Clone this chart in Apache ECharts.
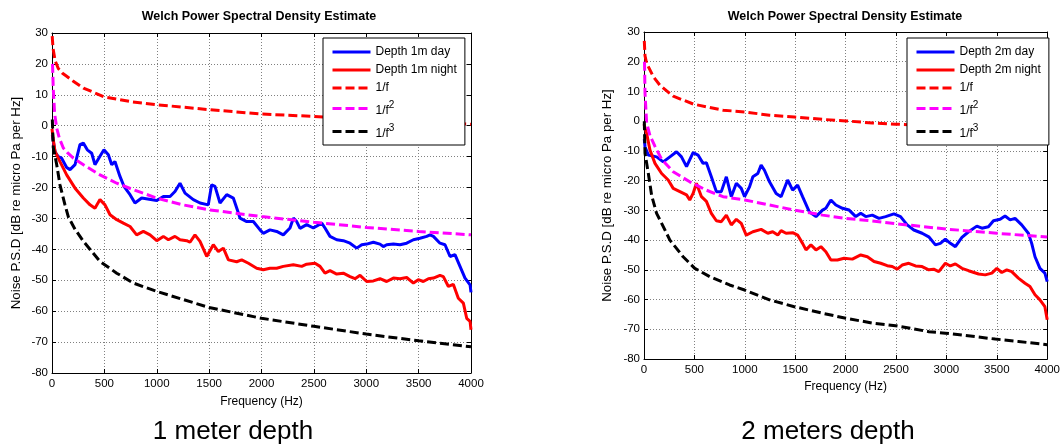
<!DOCTYPE html>
<html>
<head>
<meta charset="utf-8">
<script src="https://cdn.jsdelivr.net/npm/echarts@6/dist/echarts.min.js"></script>
<style>
  html, body { margin: 0; padding: 0; background: #fff; }
  #chart { width: 1063px; height: 448px; }
</style>
</head>
<body>
<div id="chart"></div>
<script>
// ---- data, [frequency Hz, dB] ----
const freqTicks = [0, 500, 1000, 1500, 2000, 2500, 3000, 3500, 4000];
const dbTicks = [-80, -70, -60, -50, -40, -30, -20, -10, 0, 10, 20, 30];

const day1m = [[3,-3],[29,-8.5],[60,-10],[92,-10.5],[140,-13.5],[172,-14.2],[220,-12.6],[267,-6.1],[299,-5.6],[337,-7.8],[379,-8.9],[410,-12.6],[458,-9.9],[496,-7.8],[538,-9.4],[570,-12.6],[601,-11.6],[649,-16.4],[687,-19.6],[745,-22.3],[792,-25.0],[856,-23.4],[1000,-24.2],[1063,-22.9],[1127,-22.9],[1174,-21.3],[1222,-18.6],[1270,-21.8],[1349,-23.9],[1413,-25.0],[1492,-25.6],[1524,-19.1],[1556,-19.6],[1604,-25.0],[1668,-22.3],[1731,-23.4],[1769,-27.2],[1795,-29.9],[1859,-31.0],[1922,-31.0],[1986,-33.7],[2017,-34.8],[2081,-33.7],[2145,-34.2],[2208,-35.3],[2272,-33.1],[2304,-29.9],[2336,-31.0],[2368,-33.2],[2431,-32.0],[2495,-33.1],[2575,-31.5],[2606,-33.1],[2654,-35.8],[2718,-36.9],[2781,-37.2],[2845,-38.0],[2909,-39.6],[2957,-38.5],[3004,-38.3],[3068,-37.7],[3131,-38.3],[3163,-39.1],[3195,-38.5],[3259,-38.3],[3322,-38.5],[3386,-38.0],[3450,-36.9],[3513,-36.4],[3577,-35.8],[3609,-35.3],[3641,-35.8],[3704,-38.0],[3752,-38.5],[3800,-42.3],[3847,-41.7],[3895,-45.5],[3943,-49.3],[3991,-51.5],[4000,-53.9]];

const night1m = [[0,-1],[10,-4],[29,-8.3],[76,-11.6],[140,-15.9],[220,-20.2],[299,-23.4],[363,-25.6],[410,-26.7],[458,-23.9],[506,-25.6],[554,-28.8],[618,-30.4],[681,-31.5],[745,-32.6],[808,-35.3],[872,-34.2],[936,-35.3],[1000,-37.2],[1063,-35.8],[1111,-36.9],[1174,-35.8],[1222,-36.9],[1286,-37.2],[1317,-37.7],[1365,-35.3],[1413,-37.4],[1477,-42.3],[1540,-38.5],[1588,-40.7],[1636,-39.6],[1684,-43.4],[1763,-44.0],[1811,-43.4],[1875,-44.5],[1954,-46.1],[2017,-46.6],[2081,-46.1],[2145,-46.1],[2208,-45.5],[2304,-45.0],[2384,-45.5],[2431,-44.8],[2511,-44.5],[2559,-45.5],[2606,-47.7],[2654,-46.9],[2718,-48.0],[2781,-47.7],[2845,-48.8],[2893,-49.5],[2941,-48.4],[3004,-50.4],[3068,-50.2],[3131,-49.5],[3195,-50.4],[3259,-49.3],[3322,-49.5],[3386,-49.1],[3450,-50.9],[3497,-49.8],[3545,-50.4],[3593,-49.5],[3641,-49.3],[3704,-48.4],[3736,-48.8],[3784,-52.0],[3831,-51.3],[3879,-55.8],[3927,-57.4],[3959,-62.3],[3991,-63.3],[4000,-66.0]];

const invF1m = [[2,29],[10,25],[30,21],[60,18.5],[100,17],[140,16],[200,14.5],[300,12.2],[500,9.3],[750,7.8],[1000,6.8],[1500,5.2],[2000,3.8],[2500,3.0],[3000,2.0],[3500,1.2],[4000,0.5]];
const invF2_1m = [[5,20],[12,12],[25,4],[45,-0.8],[70,-4],[108,-7.2],[150,-8.8],[204,-10.5],[300,-12.6],[458,-15.9],[618,-18.6],[776,-20.7],[1000,-23.4],[1250,-25.6],[1500,-27.2],[1750,-28.3],[2000,-29.4],[2500,-31.2],[3000,-32.9],[3500,-34.2],[4000,-35.3]];
const invF3_1m = [[3,2],[12,-7],[45,-12.6],[76,-19.1],[124,-25.6],[156,-29.5],[220,-33.5],[300,-37.4],[458,-43.9],[618,-47.7],[776,-50.9],[1000,-53.6],[1500,-58.8],[2000,-62.3],[2500,-64.9],[3000,-67.4],[3500,-69.6],[4000,-71.5]];

const day2m = [[3,-6],[10,-8.6],[43,-11.4],[125,-12.0],[191,-13.7],[257,-12.0],[323,-10.3],[372,-12.0],[422,-15.3],[487,-10.6],[536,-11.4],[586,-14.2],[619,-14.0],[668,-18.7],[718,-23.7],[767,-23.7],[817,-18.7],[866,-25.4],[916,-20.9],[965,-22.6],[998,-25.4],[1047,-22.1],[1080,-18.7],[1129,-17.6],[1162,-14.8],[1195,-16.5],[1245,-20.4],[1311,-24.3],[1360,-25.4],[1425,-19.8],[1475,-23.2],[1524,-21.5],[1573,-25.4],[1640,-30.5],[1706,-32.1],[1722,-32.5],[1771,-29.9],[1804,-29.3],[1854,-26.5],[1903,-28.2],[1969,-29.3],[2035,-29.9],[2101,-32.1],[2150,-31.0],[2200,-32.1],[2265,-31.6],[2331,-32.7],[2397,-32.1],[2479,-31.2],[2545,-32.1],[2611,-34.9],[2677,-36.6],[2759,-37.7],[2825,-38.9],[2891,-41.6],[2940,-41.1],[2990,-39.7],[3039,-41.1],[3089,-42.2],[3154,-39.1],[3220,-37.2],[3302,-35.3],[3352,-36.0],[3417,-35.5],[3467,-33.5],[3533,-33.0],[3582,-31.9],[3632,-33.2],[3681,-32.7],[3747,-34.9],[3813,-37.7],[3846,-41.1],[3879,-45.6],[3928,-49.5],[3977,-51.1],[4000,-54.0]];

const night2m = [[0,-1],[26,-4.1],[59,-9.7],[109,-14.2],[175,-17.6],[240,-19.8],[290,-22.6],[356,-23.7],[422,-24.8],[454,-26.5],[487,-24.3],[520,-20.9],[570,-25.4],[619,-27.0],[668,-31.0],[718,-33.5],[767,-33.8],[817,-31.6],[866,-34.9],[916,-33.0],[965,-34.4],[1014,-38.3],[1080,-37.2],[1162,-36.4],[1228,-37.7],[1277,-37.2],[1327,-38.3],[1360,-36.8],[1409,-37.7],[1475,-37.5],[1524,-38.3],[1573,-41.1],[1607,-43.3],[1656,-41.6],[1706,-43.3],[1755,-42.2],[1804,-43.9],[1854,-46.7],[1919,-46.7],[1985,-46.1],[2067,-46.4],[2150,-45.0],[2216,-45.6],[2282,-47.2],[2348,-47.8],[2413,-48.6],[2463,-48.9],[2512,-49.8],[2561,-48.4],[2627,-47.8],[2693,-48.7],[2759,-48.9],[2825,-50.0],[2874,-49.8],[2924,-50.6],[2990,-47.8],[3039,-48.7],[3089,-48.0],[3154,-49.5],[3220,-50.3],[3319,-51.4],[3385,-51.7],[3451,-51.1],[3500,-49.5],[3549,-50.9],[3599,-50.0],[3648,-50.6],[3714,-52.8],[3780,-54.5],[3829,-55.6],[3879,-58.4],[3928,-60.1],[3977,-62.4],[4000,-66.8]];

const invF2m = [[3,27],[10,22],[26,19.5],[92,15],[158,12.1],[290,8.4],[494,5.7],[784,3.7],[1000,3.1],[1245,2.0],[1491,1.4],[1771,0.6],[2002,0.1],[2265,-0.6],[2496,-1.0],[3000,-1.8],[3500,-2.4],[4000,-2.9]];
const invF2_2m = [[5,20],[10,9.5],[26,-0.5],[59,-4.8],[109,-8.5],[175,-12.8],[290,-17.0],[454,-20.4],[619,-23.2],[784,-25.4],[1000,-26.5],[1245,-28.2],[1491,-29.9],[1771,-31.6],[2002,-32.7],[2331,-33.8],[2500,-34.5],[3000,-36.3],[3500,-37.7],[4000,-39.0]];
const invF3_2m = [[3,0],[10,-10.8],[43,-17.6],[76,-25],[125,-31],[158,-33.2],[257,-40.0],[388,-45.6],[504,-49.5],[652,-52.3],[849,-55.1],[998,-56.8],[1245,-60.1],[1491,-62.4],[1771,-64.6],[2002,-66.3],[2265,-67.9],[2496,-68.8],[2825,-70.8],[2990,-71.3],[3319,-72.6],[3484,-73.3],[3714,-74.1],[4000,-75.2]];

const FONT = '"Liberation Sans", Arial, sans-serif';
const chart = echarts.init(document.getElementById('chart'), null, { renderer: 'canvas' });

const gridLine = { show: true, lineStyle: { color: '#808080', type: [1, 2], width: 1 } };
const blackLine = { show: true, onZero: false, lineStyle: { color: '#000', width: 1 } };
const tick = { show: true, inside: true, length: 4, lineStyle: { color: '#000' } };
const tickLabel = { fontFamily: FONT, fontSize: 11.5, color: '#000', formatter: v => String(v) };

function xAxes(gridIndex, gap, margin) {
  const base = { type: 'value', gridIndex, min: freqTicks[0], max: freqTicks[freqTicks.length - 1], interval: freqTicks[1] - freqTicks[0] };
  return [
    { ...base, position: 'bottom', name: 'Frequency (Hz)', nameLocation: 'middle', nameGap: gap,
      nameTextStyle: { fontFamily: FONT, fontSize: 12, color: '#000' },
      axisLine: blackLine, axisTick: tick, axisLabel: { ...tickLabel, margin }, splitLine: gridLine },
    { ...base, position: 'top', axisLine: blackLine, axisTick: tick, axisLabel: { show: false }, splitLine: { show: false } }
  ];
}

function yAxes(gridIndex, gap) {
  const base = { type: 'value', gridIndex, min: dbTicks[0], max: dbTicks[dbTicks.length - 1], interval: dbTicks[1] - dbTicks[0] };
  return [
    { ...base, position: 'left', name: 'Noise P.S.D [dB re micro Pa per Hz]', nameLocation: 'middle', nameGap: gap,
      nameTextStyle: { fontFamily: FONT, fontSize: 13.3, color: '#000' },
      axisLine: blackLine, axisTick: tick, axisLabel: { ...tickLabel, margin: 4 }, splitLine: gridLine },
    { ...base, position: 'right', axisLine: blackLine, axisTick: tick, axisLabel: { show: false }, splitLine: { show: false } }
  ];
}

function line(name, data, axisIdx, color, dashed) {
  return {
    type: 'line', name, data, xAxisIndex: axisIdx, yAxisIndex: axisIdx,
    symbol: 'none', animation: false, clip: true,
    lineStyle: { color, width: 3, type: dashed ? [9, 4] : 'solid' },
    itemStyle: { color }
  };
}

function legend(left, top, names) {
  return {
    left, top, orient: 'vertical', data: names, selectedMode: false,
    backgroundColor: '#fff', borderColor: '#000', borderWidth: 1,
    padding: [8, 8, 5, 8], itemWidth: 38, itemHeight: 14, itemGap: 6,
    lineStyle: { width: 3 },
    itemStyle: { opacity: 0 },
    textStyle: {
      fontFamily: FONT, fontSize: 12, color: '#000',
      rich: {
        b: { fontFamily: FONT, fontSize: 12, color: '#000', verticalAlign: 'bottom' },
        sup: { fontFamily: FONT, fontSize: 10, color: '#000', verticalAlign: 'bottom', padding: [0, 0, 7, 0] }
      }
    },
    formatter: function (name) {
      if (name === '1/f^2') return '{b|1/f}{sup|2}';
      if (name === '1/f^3') return '{b|1/f}{sup|3}';
      return name;
    }
  };
}

const option = {
  backgroundColor: '#fff',
  animation: false,
  title: [
    { text: 'Welch Power Spectral Density Estimate', left: 259, top: 10, textAlign: 'center', padding: 0,
      textStyle: { fontFamily: FONT, fontSize: 12.5, fontWeight: 'bold', color: '#000' } },
    { text: 'Welch Power Spectral Density Estimate', left: 845, top: 10, textAlign: 'center', padding: 0,
      textStyle: { fontFamily: FONT, fontSize: 12.5, fontWeight: 'bold', color: '#000' } },
    { text: '1 meter depth', left: 233, top: 419, textAlign: 'center', padding: 0,
      textStyle: { fontFamily: FONT, fontSize: 26, fontWeight: 'normal', color: '#000' } },
    { text: '2 meters depth', left: 828, top: 419, textAlign: 'center', padding: 0,
      textStyle: { fontFamily: FONT, fontSize: 26, fontWeight: 'normal', color: '#000' } }
  ],
  grid: [
    { left: 52, top: 33, width: 419, height: 340 },
    { left: 644, top: 32, width: 405, height: 327 }
  ],
  xAxis: [...xAxes(0, 23, 5), ...xAxes(1, 21, 5)],
  yAxis: [...yAxes(0, 29), ...yAxes(1, 30)],
  legend: [
    legend(323, 38, ['Depth 1m day', 'Depth 1m night', '1/f', '1/f^2', '1/f^3']),
    legend(907, 38, ['Depth 2m day', 'Depth 2m night', '1/f', '1/f^2', '1/f^3'])
  ],
  series: [
    line('Depth 1m day', day1m, 0, '#0000ff', false),
    line('Depth 1m night', night1m, 0, '#ff0000', false),
    line('1/f', invF1m, 0, '#ff0000', true),
    line('1/f^2', invF2_1m, 0, '#ff00ff', true),
    line('1/f^3', invF3_1m, 0, '#000000', true),
    line('Depth 2m day', day2m, 2, '#0000ff', false),
    line('Depth 2m night', night2m, 2, '#ff0000', false),
    line('1/f', invF2m, 2, '#ff0000', true),
    line('1/f^2', invF2_2m, 2, '#ff00ff', true),
    line('1/f^3', invF3_2m, 2, '#000000', true)
  ]
};

chart.setOption(option);
</script>
</body>
</html>
